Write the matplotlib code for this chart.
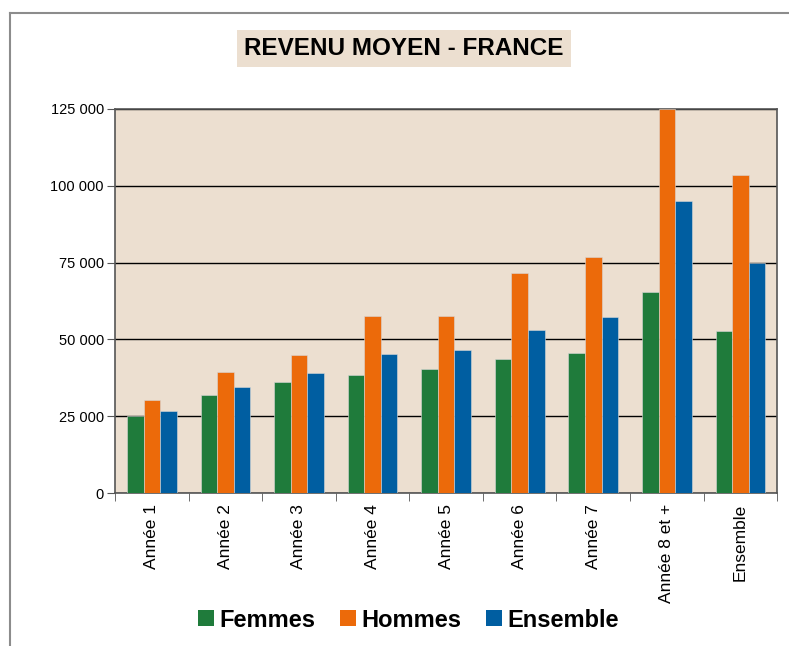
import numpy as np
import matplotlib
matplotlib.use("Agg")
import matplotlib.pyplot as plt
from matplotlib.patches import Patch
from matplotlib.lines import Line2D
from matplotlib.ticker import FuncFormatter

plt.rcParams["font.family"] = ["Liberation Sans", "DejaVu Sans"]

categories = ["Année 1", "Année 2", "Année 3", "Année 4", "Année 5",
              "Année 6", "Année 7", "Année 8 et +", "Ensemble"]
femmes = [25000, 31800, 36000, 38500, 40500, 43500, 45500, 65500, 52600]
hommes = [30400, 39300, 45000, 57500, 57500, 71500, 76900, 125000, 103600]
ensemble = [26800, 34400, 39000, 45200, 46500, 53000, 57200, 95200, 75000]
series_names = ["Femmes", "Hommes", "Ensemble"]
colors = ["#1f7b3b", "#ec6a0a", "#005ea1"]
bg = "#ecdfd0"

fig = plt.figure(figsize=(7.89, 6.46), dpi=100)
ax = fig.add_axes([0.1458, 0.2368, 0.8392, 0.5945])
ax.set_facecolor(bg)

x = np.arange(len(categories))
w = 0.225
for k, vals in enumerate([femmes, hommes, ensemble]):
    ax.bar(x + (k - 1) * w, vals, width=w, color=colors[k],
           edgecolor="#d8d8d8", linewidth=0.4, zorder=3)

ax.set_xlim(-0.5, len(categories) - 0.5)
ax.set_ylim(0, 125000)
ax.set_yticks(np.arange(0, 125001, 25000))
ax.yaxis.set_major_formatter(FuncFormatter(lambda v, p: f"{int(v):,}".replace(",", " ")))
ax.grid(axis="y", color="black", linewidth=1, zorder=1)
ax.set_axisbelow(True)

ax.set_xticks(x)
ax.set_xticklabels(categories, rotation=90, fontsize=12.5)
ax.set_xticks(np.arange(-0.5, len(categories)), minor=True)
ax.tick_params(axis="x", which="major", length=0, pad=8)
ax.tick_params(axis="x", which="minor", length=6, direction="out", color="#555555")
ax.tick_params(axis="y", length=6, direction="out", color="#555555", labelsize=10.5, pad=2)

for s in ["left", "bottom", "top", "right"]:
    ax.spines[s].set_color("#555555")
    ax.spines[s].set_linewidth(1.2)

fig.text(0.512, 0.925, "REVENU MOYEN - FRANCE", ha="center", va="center",
         fontsize=17.5, fontweight="bold",
         bbox=dict(facecolor=bg, edgecolor="none", pad=5))

handles = [Patch(facecolor=c, edgecolor="none") for c in colors]
fig.legend(handles, series_names, loc="center", bbox_to_anchor=(0.518, 0.04),
           ncol=3, frameon=False, prop={"size": 17, "weight": "bold"},
           handlelength=0.65, handleheight=0.65, handletextpad=0.25,
           columnspacing=1.05)

fig.add_artist(Line2D([0.0121, 0.0121], [0, 0.98], transform=fig.transFigure,
                      color="#8c8c8c", linewidth=1.5))
fig.add_artist(Line2D([0.0121, 1.0], [0.98, 0.98], transform=fig.transFigure,
                      color="#8c8c8c", linewidth=1.5))

fig.savefig("out.png", dpi=100)
